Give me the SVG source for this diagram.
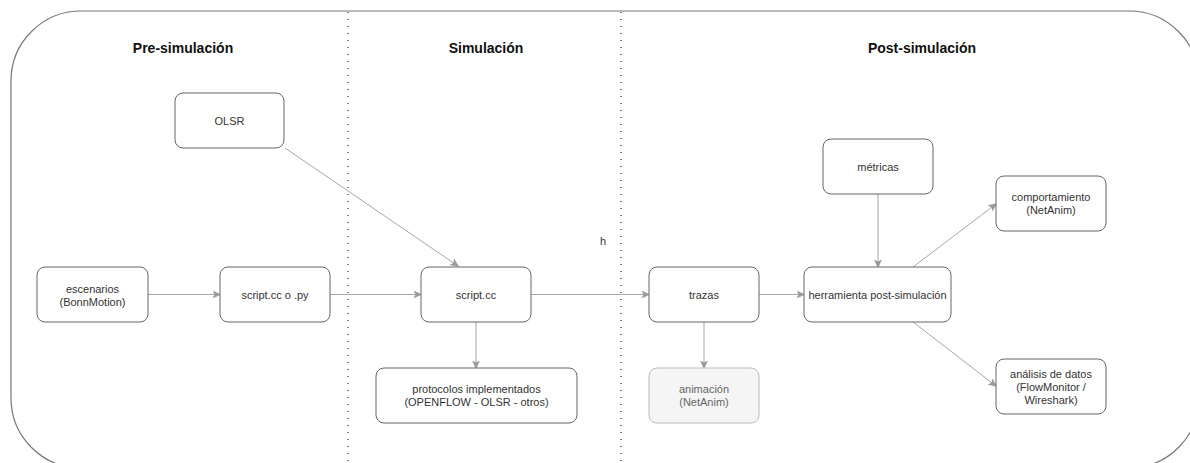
<svg xmlns="http://www.w3.org/2000/svg" width="1190" height="463" viewBox="0 0 1190 463">
  <style>
    .frame { fill: #ffffff; stroke: #777777; stroke-width: 1.2; }
    .divider { fill: none; stroke: #555555; stroke-width: 1.5; stroke-dasharray: 1 6; }
    .title { font-family: "Liberation Sans", Arial, sans-serif; font-size: 14px; font-weight: bold; fill: #111111; text-anchor: middle; }
    .box { fill: #ffffff; stroke: #666666; stroke-width: 1; }
    .box.muted { fill: #f5f5f5; stroke: #bbbbbb; }
    .label { font-family: "Liberation Sans", Arial, sans-serif; font-size: 11px; fill: #333333; text-anchor: middle; }
    .label.muted { fill: #666666; }
    .edge { fill: none; stroke: #a6a6a6; stroke-width: 1; marker-end: url(#arrow); }
  </style>
  <defs>
    <marker id="arrow" viewBox="0 0 10 10" refX="9" refY="5" markerWidth="8" markerHeight="8" markerUnits="userSpaceOnUse" orient="auto">
      <path d="M0,0.5 L10,5 L0,9.5 L2.5,5 Z" fill="#999999" stroke="#999999" stroke-width="0.5"/>
    </marker>
  </defs>

  <!-- outer rounded frame -->
  <rect class="frame" x="11" y="11" width="1188" height="457" rx="70" ry="70"/>

  <!-- phase dividers -->
  <line class="divider" x1="348" y1="12" x2="348" y2="463"/>
  <line class="divider" x1="621" y1="12" x2="621" y2="463"/>

  <!-- phase titles -->
  <text class="title" x="183" y="53">Pre-simulación</text>
  <text class="title" x="486" y="53">Simulación</text>
  <text class="title" x="922" y="53">Post-simulación</text>

  <text class="label" x="603" y="245">h</text>

  <!-- connectors -->
  <g id="connectors">
    <path class="edge" d="M285,148 L458,266"/>
    <path class="edge" d="M148,294.5 L220,294.5"/>
    <path class="edge" d="M330,294.5 L421,294.5"/>
    <path class="edge" d="M476,322 L476,368"/>
    <path class="edge" d="M531,294.5 L649,294.5"/>
    <path class="edge" d="M704,322 L704,368"/>
    <path class="edge" d="M759,294.5 L804,294.5"/>
    <path class="edge" d="M878,194 L878,267"/>
    <path class="edge" d="M913,267 L996,204"/>
    <path class="edge" d="M913,322 L996,386"/>
  </g>

  <!-- nodes -->
  <g id="olsr">
    <rect class="box" x="175" y="93" width="109" height="55" rx="8"/>
    <text class="label" x="229.5" y="125">OLSR</text>
  </g>
  <g id="escenarios">
    <rect class="box" x="37" y="267" width="111" height="55" rx="8"/>
    <text class="label" x="92.5" y="293">escenarios</text>
    <text class="label" x="92.5" y="306">(BonnMotion)</text>
  </g>
  <g id="script-cc-py">
    <rect class="box" x="220" y="267" width="110" height="55" rx="8"/>
    <text class="label" x="275" y="299">script.cc o .py</text>
  </g>
  <g id="script-cc">
    <rect class="box" x="421" y="267" width="110" height="55" rx="8"/>
    <text class="label" x="476" y="299">script.cc</text>
  </g>
  <g id="protocolos">
    <rect class="box" x="376" y="368" width="201" height="55" rx="8"/>
    <text class="label" x="476.5" y="393">protocolos implementados</text>
    <text class="label" x="476.5" y="406">(OPENFLOW - OLSR - otros)</text>
  </g>
  <g id="trazas">
    <rect class="box" x="649" y="267" width="110" height="55" rx="8"/>
    <text class="label" x="704" y="299">trazas</text>
  </g>
  <g id="animacion">
    <rect class="box muted" x="649" y="368" width="110" height="55" rx="8"/>
    <text class="label muted" x="704" y="393">animación</text>
    <text class="label muted" x="704" y="406">(NetAnim)</text>
  </g>
  <g id="herramienta">
    <rect class="box" x="804" y="267" width="147" height="55" rx="8"/>
    <text class="label" x="877.5" y="299">herramienta post-simulación</text>
  </g>
  <g id="metricas">
    <rect class="box" x="823" y="139" width="110" height="55" rx="8"/>
    <text class="label" x="878" y="171">métricas</text>
  </g>
  <g id="comportamiento">
    <rect class="box" x="996" y="176" width="110" height="55" rx="8"/>
    <text class="label" x="1051" y="201">comportamiento</text>
    <text class="label" x="1051" y="214">(NetAnim)</text>
  </g>
  <g id="analisis">
    <rect class="box" x="996" y="359" width="110" height="55" rx="8"/>
    <text class="label" x="1051" y="378">análisis de datos</text>
    <text class="label" x="1051" y="391">(FlowMonitor /</text>
    <text class="label" x="1051" y="404">Wireshark)</text>
  </g>
</svg>
